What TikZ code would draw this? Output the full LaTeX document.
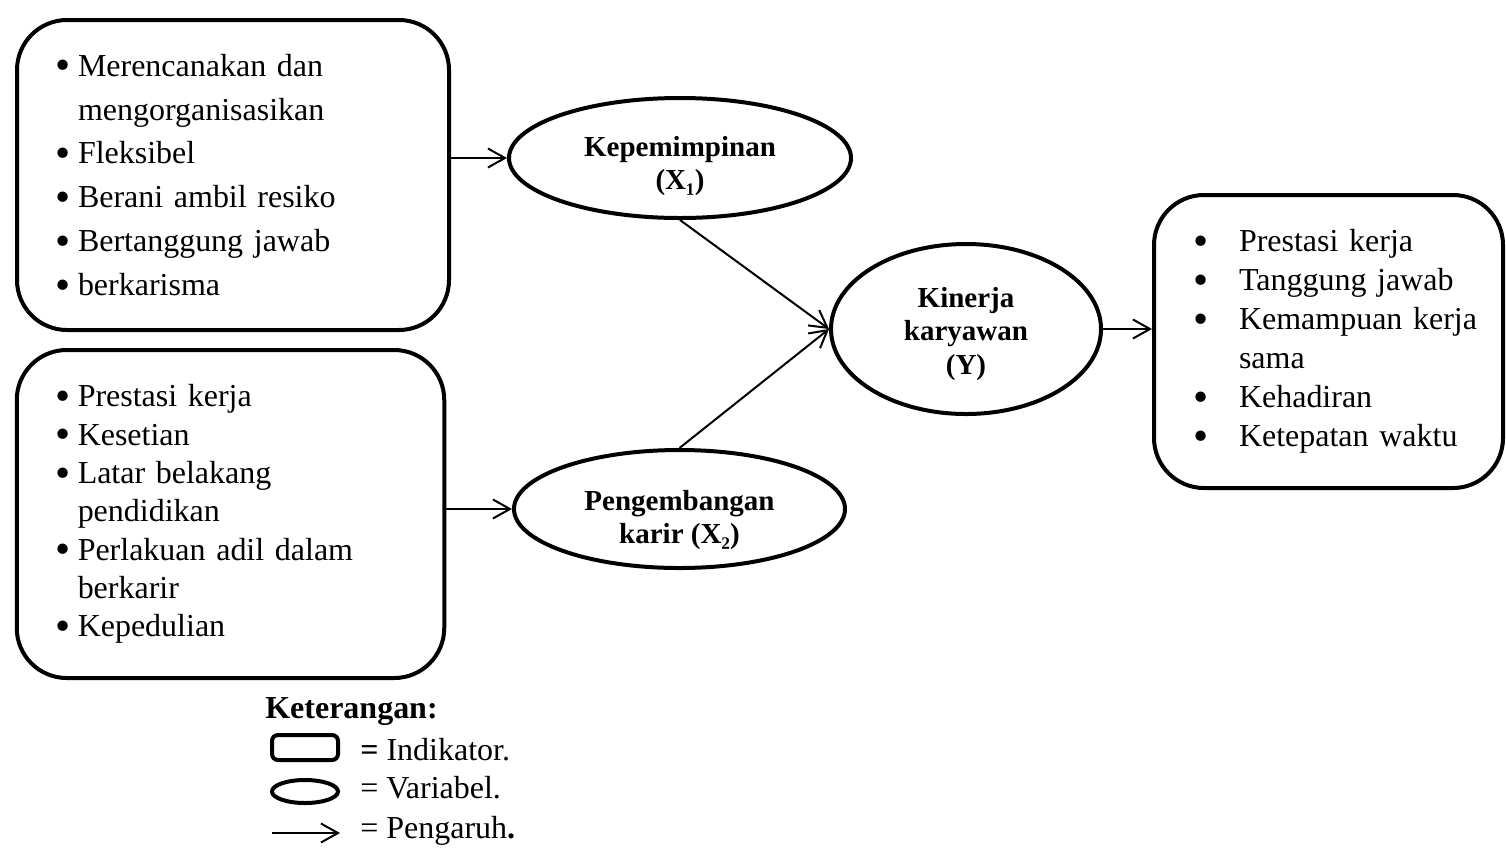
\documentclass[tikz,border=0pt]{standalone}
\usepackage{fontspec}
\setmainfont{Liberation Serif}
\usetikzlibrary{shapes.geometric,arrows.meta,positioning}

% butir daftar indikator
\newcommand{\titik}{\smash{\raisebox{-0.12em}{\scalebox{1.35}{\textbullet}}}}
\newcommand{\butir}[2][0.44cm]{\hspace*{0.78cm}\makebox[#1][l]{\titik}#2}
\newcommand{\lanjut}[2][0.44cm]{\hspace*{0.78cm}\hspace*{#1}#2}

\begin{document}
\begin{tikzpicture}[
    indikator/.style={rectangle, draw, line width=0.08cm, rounded corners=1cm, inner xsep=0pt, align=left, font=\fontsize{18.2}{21.8}\selectfont},
    variabel/.style={ellipse, draw, line width=0.08cm, inner sep=0pt},
    nama/.style={align=center, font=\fontsize{16.5}{19.3}\selectfont\bfseries},
    keterangan/.style={anchor=base west, inner sep=0pt, font=\fontsize{18.2}{22}\selectfont},
    pengaruh/.style={-{Straight Barb[length=0.34cm,width=0.38cm]}, line width=0.04cm}
]
    \useasboundingbox (0,0) rectangle (30.12,-17.02);

    % indikator
    \node[indikator, minimum width=8.64cm, minimum height=6.2cm, text width=8.64cm, font=\fontsize{18.2}{25}\selectfont] (ind1) at (4.66,-3.5)
        {\butir{Merencanakan dan}\\ \lanjut{mengorganisasikan}\\ \butir{Fleksibel}\\ \butir{Berani ambil resiko}\\ \butir{Bertanggung jawab}\\ \butir{berkarisma}};
    \node[indikator, minimum width=8.55cm, minimum height=6.56cm, text width=8.55cm] (ind2) at (4.61,-10.28)
        {\butir{Prestasi kerja}\\ \butir{Kesetian}\\ \butir{Latar belakang}\\ \lanjut{pendidikan}\\ \butir{Perlakuan adil dalam}\\ \lanjut{berkarir}\\ \butir{Kepedulian}};
    \node[indikator, minimum width=6.98cm, minimum height=5.86cm, text width=6.98cm, font=\fontsize{18.2}{22.2}\selectfont] (ind3) at (26.57,-6.83)
        {\butir[0.92cm]{Prestasi kerja}\\ \butir[0.92cm]{Tanggung jawab}\\ \butir[0.92cm]{Kemampuan kerja}\\ \lanjut[0.92cm]{sama}\\ \butir[0.92cm]{Kehadiran}\\ \butir[0.92cm]{Ketepatan waktu}};

    % variabel
    \node[variabel, minimum width=6.84cm, minimum height=2.4cm,
        label={[nama, yshift=-0.16cm]center:Kepemimpinan\\(X₁)}] (var1) at (13.6,-3.16) {};
    \node[variabel, minimum width=6.62cm, minimum height=2.36cm,
        label={[nama, yshift=-0.22cm]center:Pengembangan\\karir (X₂)}] (var2) at (13.59,-10.18) {};
    \node[variabel, minimum width=5.4cm, minimum height=3.4cm,
        label={[nama, yshift=-0.1cm]center:Kinerja\\karyawan\\(Y)}] (var3) at (19.32,-6.58) {};

    \draw[pengaruh] (ind1.east |- var1.west) -- (var1.west);
    \draw[pengaruh] (ind2.east |- var2.west) -- (var2.west);
    \draw[pengaruh] (var1.south) -- (var3.west);
    \draw[pengaruh] (var2.north) -- (var3.west);
    \draw[pengaruh] (var3.east) -- (var3.east -| ind3.west);

    % keterangan
    \node[keterangan, font=\fontsize{18.2}{22}\selectfont\bfseries] (ket) at (5.3,-14.36) {Keterangan:};
    \node[rectangle, draw, line width=0.08cm, rounded corners=0.12cm, minimum width=1.32cm, minimum height=0.5cm, inner sep=0pt] (lgkotak) at (6.1,-14.95) {};
    \node[ellipse, draw, line width=0.08cm, minimum width=1.32cm, minimum height=0.46cm, inner sep=0pt] (lgelips) at (6.1,-15.83) {};
    \coordinate (lgA) at (5.44,-16.66);
    \coordinate (lgB) at (6.8,-16.66);
    \draw[pengaruh] (lgA) -- (lgB);
    \node[keterangan] (ketind) at (7.2,-15.2) {\textbf{=} Indikator.};
    \node[keterangan] (ketvar) at (7.2,-15.96) {= Variabel.};
    \node[keterangan] (ketpgr) at (7.2,-16.76) {= Pengaruh\textbf{.}};
\end{tikzpicture}
\end{document}
